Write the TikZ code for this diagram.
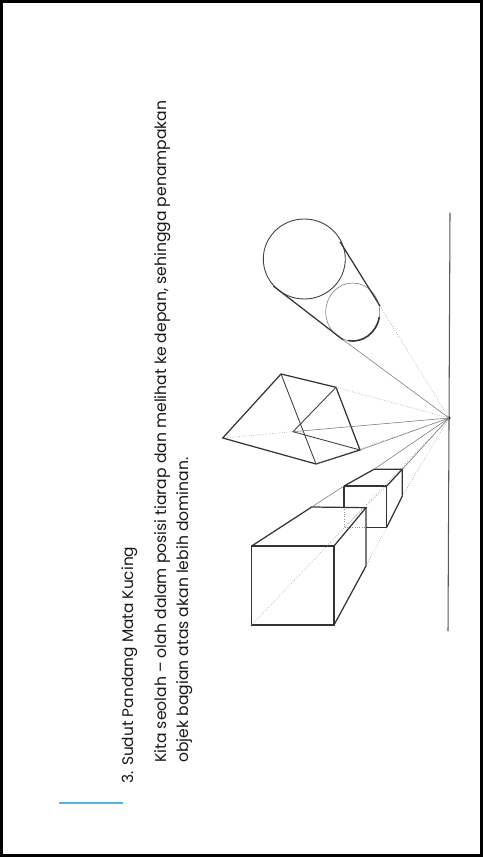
\documentclass[tikz,border=0pt]{standalone}
\usepackage{fontspec}
\setmainfont{Poppins}
\definecolor{rulecol}{HTML}{4DB6E2}
\begin{document}
\begin{tikzpicture}[x=0.02cm,y=-0.02cm]
	% styles
	\tikzstyle{frame} += [draw=black,line width=1.7pt,fill=white]
	\tikzstyle{caption} += [rotate=90,anchor=base west,inner sep=0pt,text=black!90,font=\fontsize{8.88pt}{10pt}\selectfont]
	\tikzstyle{bold} += [draw=black!80,line width=0.7pt]
	\tikzstyle{edge} += [draw=black!75,line width=0.5pt]
	\tikzstyle{ray} += [draw=black!55,line width=0.3pt]
	\tikzstyle{guide} += [draw=black!40,line width=0.35pt,densely dotted]
	
	% bounding box
	\useasboundingbox (0,0) rectangle (483,857);
	\path[frame] (1.5,1.5) rectangle (481.5,855.5);
	
	% text
	\node[caption,font=\fontsize{8.75pt}{10pt}\selectfont] (title) at (133,784) {3. Sudut Pandang Mata Kucing};
	\node[caption] (lineone) at (166.7,763) {Kita seolah -- olah dalam posisi tiarap dan melihat ke depan, sehingga penampakan};
	\node[caption] (linetwo) at (188,763) {objek bagian atas akan lebih dominan.};
	\draw[draw=rulecol,line width=0.8pt] (59,803) -- (123,803);
	
	% horizon and vanishing point
	\coordinate (vp) at (449,418);
	\draw[draw=black!65,line width=0.6pt] (450,213) -- (448,631);
	\fill[black] (vp) circle (1.7);
	
	% circles
	\draw[edge] (304.3,259) ellipse (41 and 40);
	\draw[ray] (352.7,312) ellipse (27 and 29);
	\draw[bold] (340,241.7) -- (380,306);
	\draw[bold] (273.3,286) -- (343.3,340);
	\draw[bold,line width=0.9pt] (348,340.6) arc (100:10:27 and 29);
	\draw[guide] (380,306) -- (vp);
	\draw[ray] (343.3,340) -- (vp);
	
	% prism
	\draw[bold] (222.7,438) -- (281,374) -- (336,387.3) -- (360,450) -- (316,464) -- cycle;
	\draw[edge] (281,374) -- (316,464);
	\draw[edge] (336,387.3) -- (293,431.7) -- (360,450);
	\draw[ray] (293,431.7) -- (vp);
	\draw[ray] (360,450) -- (vp);
	\draw[guide] (222.7,438) -- (293,431.7);
	\draw[guide] (336,387.3) -- (vp);
	\draw[guide] (316,464) -- (vp);
	
	% small box
	\draw[bold] (344,486) -- (386.7,486) -- (386.7,527.3) -- (366,527.3);
	\draw[bold] (344,486) -- (344,507);
	\draw[bold] (344,486) -- (374,469.3) -- (402.3,469.3) -- (386.7,486);
	\draw[bold] (402.3,469.3) -- (402.3,496) -- (386.7,527.3);
	\draw[guide] (344,507) -- (344,527.3) -- (366,527.3);
	\draw[guide] (344,527.3) -- (386.7,486);
	\draw[guide] (402.3,496) -- (vp);
	\draw[ray] (402.3,469.3) -- (vp);
	\draw[ray] (374,469.3) -- (vp);
	
	% big box
	\draw[bold] (251.7,546) rectangle (334,625);
	\draw[bold] (251.7,546) -- (311.7,507) -- (366,507.7) -- (334,546);
	\draw[bold] (366,507.7) -- (366,566) -- (334,625);
	\draw[ray] (311.7,507) -- (344,486);
	\draw[guide] (366,566) -- (386.7,527.3);
	\draw[guide] (251.7,625) -- (vp);
\end{tikzpicture}
\end{document}
